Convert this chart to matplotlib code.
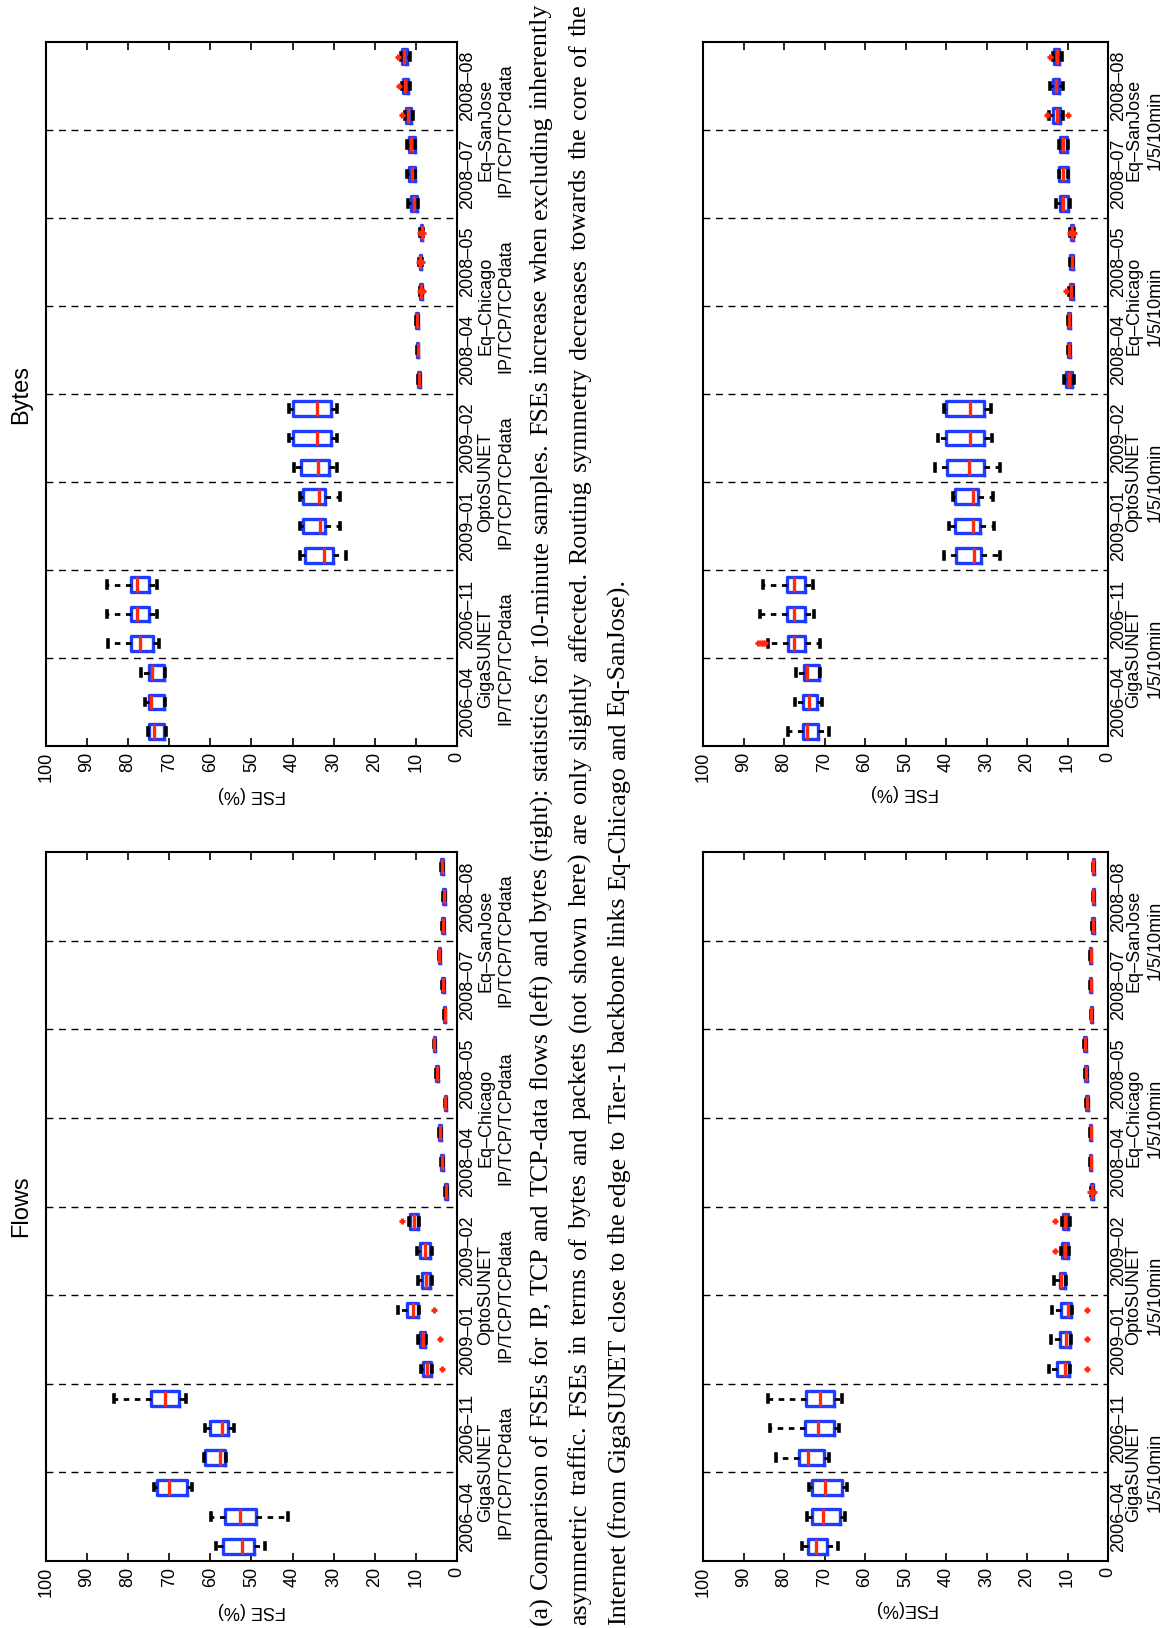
import matplotlib
matplotlib.use("Agg")
import matplotlib.pyplot as plt
from matplotlib.transforms import offset_copy

plt.rcParams.update({
    "font.family": "Liberation Sans",
    "font.size": 13,
    "axes.linewidth": 1.5,
})

W, H = 1168, 1628
BLUE = "#1e3cff"
RED = "#ff2a10"

# measurement months (bottom to top), 3 boxes each
months = ["2006–04", "2006–11", "2009–01", "2009–02",
          "2008–04", "2008–05", "2008–07", "2008–08"]
links = ["GigaSUNET", "OptoSUNET", "Eq–Chicago", "Eq–SanJose"]

# ---- Bytes, IP/TCP/TCPdata ----
bp_lo  = [70.8, 71.0, 71.0, 72.4, 72.9, 72.9, 27.1, 28.5, 28.5, 29.3, 29.3, 29.3,
          8.9, 9.4, 9.6, 8.4, 8.6, 8.3, 9.6, 10.2, 10.3, 10.6, 11.4, 11.4]
bp_q1  = [71.2, 71.3, 71.3, 74.0, 75.0, 75.0, 30.2, 32.0, 32.0, 31.1, 30.7, 30.7,
          8.9, 9.4, 9.6, 8.5, 8.7, 8.4, 9.8, 10.2, 10.3, 11.2, 12.0, 12.1]
bp_med = [73.8, 74.5, 74.3, 77.1, 77.8, 77.9, 32.4, 33.4, 33.5, 33.8, 34.0, 34.0,
          9.2, 9.6, 9.8, 8.7, 8.9, 8.6, 10.5, 11.0, 11.1, 11.9, 12.6, 12.8]
bp_q3  = [75.0, 75.0, 75.0, 79.4, 79.4, 79.4, 36.9, 37.5, 37.5, 37.9, 40.0, 40.0,
          9.5, 9.8, 10.0, 8.9, 9.1, 8.8, 11.2, 11.8, 11.8, 12.4, 13.2, 13.4]
bp_hi  = [75.3, 75.9, 76.9, 85.0, 85.2, 85.2, 38.3, 38.3, 38.3, 39.7, 40.9, 40.9,
          9.5, 9.8, 10.0, 9.0, 9.2, 8.9, 11.9, 12.2, 12.2, 12.6, 13.4, 13.6]
bp_fl  = {16: [8.3, 9.1], 17: [8.5, 9.3], 18: [8.2, 9.0], 22: [13.3], 23: [14.2], 24: [14.3]}

# ---- Flows, IP/TCP/TCPdata ----
fp_lo  = [46.6, 41.1, 64.4, 56.1, 54.3, 66.0, 6.0, 7.5, 9.2, 6.0, 6.2, 9.3,
          2.4, 3.5, 4.0, 2.6, 4.6, 5.3, 2.8, 3.2, 4.1, 3.2, 3.0, 3.5]
fp_q1  = [49.4, 48.8, 65.6, 56.4, 55.6, 67.7, 6.3, 7.7, 9.5, 6.5, 6.6, 9.6,
          2.4, 3.5, 4.0, 2.6, 4.6, 5.3, 2.8, 3.2, 4.1, 3.2, 3.0, 3.5]
fp_med = [52.2, 52.9, 70.1, 57.6, 57.1, 71.0, 7.3, 8.3, 10.6, 7.6, 7.9, 10.5,
          2.6, 3.7, 4.2, 2.8, 4.8, 5.5, 3.0, 3.4, 4.3, 3.4, 3.2, 3.7]
fp_q3  = [56.9, 56.5, 73.0, 61.3, 60.1, 74.4, 8.2, 8.9, 12.2, 8.6, 9.1, 11.4,
          2.8, 3.9, 4.4, 3.0, 5.0, 5.7, 3.2, 3.6, 4.5, 3.6, 3.4, 3.9]
fp_hi  = [58.7, 59.8, 73.8, 61.6, 61.3, 83.4, 8.8, 9.4, 14.3, 9.5, 9.8, 11.6,
          2.8, 3.9, 4.4, 3.0, 5.0, 5.7, 3.2, 3.6, 4.5, 3.6, 3.4, 3.9]
fp_fl  = {7: [3.6], 8: [4.2], 9: [5.7], 12: [13.4]}

# ---- Bytes, 1/5/10min ----
bt_lo  = [69.0, 70.6, 71.2, 71.2, 72.5, 72.8, 26.6, 28.1, 28.4, 26.6, 28.6, 29.0,
          8.5, 9.4, 9.4, 8.6, 8.7, 8.4, 9.4, 10.0, 9.9, 11.0, 11.0, 11.4]
bt_q1  = [71.7, 71.9, 71.4, 74.8, 74.8, 74.8, 31.3, 31.7, 32.1, 30.5, 30.7, 30.7,
          8.9, 9.4, 9.4, 8.7, 8.7, 8.6, 10.0, 10.0, 10.2, 11.8, 12.0, 12.0]
bt_med = [74.3, 73.9, 74.2, 77.6, 77.6, 77.6, 33.1, 33.4, 33.4, 34.2, 34.0, 34.0,
          9.6, 9.7, 9.7, 9.1, 9.0, 8.9, 11.0, 11.0, 11.0, 12.7, 12.8, 12.7]
bt_q3  = [75.2, 75.4, 75.0, 78.9, 79.3, 79.3, 37.5, 37.7, 37.7, 39.7, 40.1, 40.1,
          10.3, 10.0, 10.0, 9.5, 9.3, 9.1, 11.8, 12.1, 11.8, 13.5, 13.5, 13.4]
bt_hi  = [78.9, 77.4, 77.0, 84.0, 85.9, 85.1, 40.4, 39.3, 38.3, 42.6, 41.9, 40.6,
          10.8, 10.0, 10.0, 9.7, 9.3, 9.3, 12.8, 12.2, 12.0, 14.5, 14.2, 13.6]
bt_fl  = {4: [84.6, 85.2, 85.8, 86.4], 16: [10.4], 18: [8.3, 9.5], 22: [10.0, 15.1], 24: [14.2]}

# ---- Flows, 1/5/10min ----
ft_lo  = [66.7, 64.9, 64.5, 68.8, 66.3, 65.7, 9.5, 9.2, 9.0, 10.3, 9.7, 9.4,
          3.7, 4.1, 4.1, 5.0, 5.3, 5.5, 3.9, 4.1, 4.1, 3.5, 3.4, 3.4]
ft_q1  = [69.4, 66.1, 65.7, 70.2, 67.7, 67.7, 9.7, 9.4, 9.2, 10.5, 9.9, 9.9,
          3.7, 4.1, 4.1, 5.0, 5.3, 5.5, 3.9, 4.1, 4.1, 3.5, 3.4, 3.4]
ft_med = [72.2, 70.4, 69.8, 74.1, 71.6, 71.0, 10.7, 10.3, 10.0, 11.5, 10.5, 10.5,
          3.9, 4.3, 4.3, 5.2, 5.5, 5.7, 4.1, 4.3, 4.3, 3.7, 3.6, 3.6]
ft_q3  = [74.1, 73.2, 73.1, 76.4, 74.9, 74.5, 12.5, 11.9, 11.7, 11.9, 11.3, 11.1,
          4.1, 4.5, 4.5, 5.4, 5.7, 5.9, 4.3, 4.5, 4.5, 3.9, 3.8, 3.8]
ft_hi  = [75.5, 74.3, 73.9, 81.9, 83.5, 83.9, 14.5, 14.1, 13.8, 13.3, 11.5, 11.3,
          4.1, 4.5, 4.5, 5.4, 5.7, 5.9, 4.3, 4.5, 4.5, 3.9, 3.8, 3.8]
ft_fl  = {7: [5.3], 8: [5.3], 9: [5.3], 11: [13.0], 12: [13.0], 13: [3.4, 4.4]}


def make_stats(lo, q1, med, q3, hi, fl):
    return [dict(whislo=a, q1=b, med=c, q3=d, whishi=e, fliers=fl.get(i + 1, []))
            for i, (a, b, c, d, e) in enumerate(zip(lo, q1, med, q3, hi))]


fig = plt.figure(figsize=(W / 100, H / 100), dpi=100)

col_x = [(46, 457), (703, 1108)]
row_y = [(42, 746), (852, 1561)]


def panel(col, row, stats, third, offs):
    x0, x1 = col_x[col]
    ytop, ybot = row_y[row]
    ax = fig.add_axes([x0 / W, 1 - ybot / H, (x1 - x0) / W, (ybot - ytop) / H])
    pos = list(range(1, len(stats) + 1))
    ax.bxp(stats, positions=pos, widths=0.5, orientation="horizontal",
           manage_ticks=False, capwidths=0.22,
           boxprops=dict(color=BLUE, lw=2.4),
           medianprops=dict(color=RED, lw=2.4),
           whiskerprops=dict(color="black", lw=2.0, linestyle=(0, (2, 2))),
           capprops=dict(color="black", lw=2.6),
           flierprops=dict(marker="+", markeredgecolor=RED, markersize=5,
                           markeredgewidth=2.2))
    for g in range(1, len(months)):
        ax.axhline(3 * g + 0.5, color="black", lw=1.0, ls=(0, (5, 4)))
    ax.set_xlim(100, 0)
    ax.set_ylim(0.5, len(stats) + 0.5)
    ax.set_xticks(range(0, 101, 10))
    ax.set_yticks([])
    ax.tick_params(axis="x", direction="in", top=True, length=6, width=1.2,
                   labelrotation=90, pad=4)

    def tr(dx):
        return offset_copy(ax.get_yaxis_transform(), fig=fig, x=dx, y=0, units="dots")

    for g, m in enumerate(months):
        ax.text(1, 3 * g + 2, m, transform=tr(offs[0]), rotation=90,
                ha="center", va="center", clip_on=False)
    for k, name in enumerate(links):
        ax.text(1, 6 * k + 3.5, name, transform=tr(offs[1]), rotation=90,
                ha="center", va="center", clip_on=False)
        ax.text(1, 6 * k + 3.5, third, transform=tr(offs[2]), rotation=90,
                ha="center", va="center", clip_on=False)
    return ax


panel(0, 0, make_stats(bp_lo, bp_q1, bp_med, bp_q3, bp_hi, bp_fl), "IP/TCP/TCPdata", (11, 29, 49))
panel(0, 1, make_stats(fp_lo, fp_q1, fp_med, fp_q3, fp_hi, fp_fl), "IP/TCP/TCPdata", (11, 29, 49))
panel(1, 0, make_stats(bt_lo, bt_q1, bt_med, bt_q3, bt_hi, bt_fl), "1/5/10min", (11, 26, 47))
panel(1, 1, make_stats(ft_lo, ft_q1, ft_med, ft_q3, ft_hi, ft_fl), "1/5/10min", (11, 26, 47))

# titles and axis labels (whole page is turned sideways)
fig.text(21 / W, 1 - 394 / H, "Bytes", rotation=90, fontsize=17, ha="center", va="center")
fig.text(21 / W, 1 - 1206 / H, "Flows", rotation=90, fontsize=17, ha="center", va="center")
fig.text(252 / W, 1 - 795 / H, "FSE (%)", rotation=180, ha="center", va="center")
fig.text(252 / W, 1 - 1611 / H, "FSE (%)", rotation=180, ha="center", va="center")
fig.text(905 / W, 1 - 793 / H, "FSE (%)", rotation=180, ha="center", va="center")
fig.text(905 / W, 1 - 1608 / H, "FSE(%)", rotation=180, ha="center", va="center")

# caption, justified like the paper text
caption = [
    "(a) Comparison of FSEs for IP, TCP and TCP-data flows (left) and bytes (right): "
    "statistics for 10-minute samples. FSEs increase when excluding inherently",
    "asymmetric traffic.  FSEs in terms of bytes and packets (not shown here) are only "
    "slightly affected.  Routing symmetry decreases towards the core of the",
    "Internet (from GigaSUNET close to the edge to Tier-1 backbone links Eq-Chicago and Eq-SanJose).",
]
cap_x = [541, 580, 619]
cap_size = 18.7
renderer = fig.canvas.get_renderer()
for line, xpx, last in zip(caption, cap_x, [False, False, True]):
    words = line.split()
    items = [fig.text(0, 0, w, rotation=90, ha="center", va="bottom",
                      family="Liberation Serif", fontsize=cap_size) for w in words]
    lens = [t.get_window_extent(renderer).height for t in items]
    y0, y1 = 3, H - 4
    if last:
        gap = 0.25 * cap_size * 100 / 72
    else:
        gap = (y1 - y0 - sum(lens)) / (len(words) - 1)
    y = y0
    for t, L in zip(items, lens):
        t.set_position((xpx / W, y / H))
        y += L + gap

fig.savefig("out.png", dpi=100)
